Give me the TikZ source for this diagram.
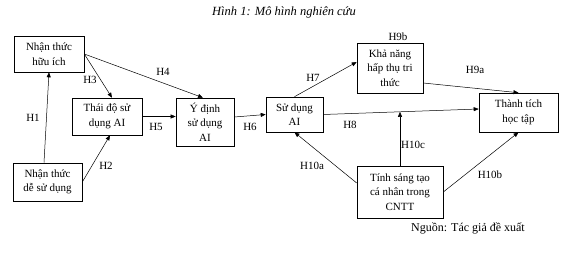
\documentclass[tikz,border=0pt]{standalone}
\usepackage{fontspec}
\setmainfont{Liberation Serif}
\usetikzlibrary{arrows.meta,positioning,calc}

\begin{document}
\begin{tikzpicture}[x=1pt,y=-1pt,
  hbox/.style={draw,line width=0.6pt,align=center,inner sep=1pt,
    font=\fontsize{11}{14.5}\selectfont},
  arr/.style={-{Triangle[length=5pt,width=4pt]},line width=0.5pt},
  hlab/.style={font=\fontsize{11}{12}\selectfont,inner sep=1pt}
]
  \useasboundingbox (0,0) rectangle (571,255);
  % Title
  \node[font=\fontsize{12.5}{14}\selectfont\itshape] (title) at (284,12) {Hình 1: Mô hình nghiên cứu};
  % Constructs
  \node[hbox,minimum width=70pt,minimum height=36pt] (hi) at (49,54) {Nhận thức\\hữu ích};
  \node[hbox,minimum width=70pt,minimum height=37pt] (td) at (107,116.5) {Thái độ sử\\dụng AI};
  \node[hbox,minimum width=58pt,minimum height=48pt] (yd) at (205,122) {Ý định\\sử dụng\\AI};
  \node[hbox,minimum width=57pt,minimum height=35pt] (sd) at (294.5,114.5) {Sử dụng\\AI};
  \node[hbox,minimum width=66pt,minimum height=50pt] (kn) at (390,68) {Khả năng\\hấp thụ tri\\thức};
  \node[hbox,minimum width=79pt,minimum height=39pt] (tt) at (518.5,112.5) {Thành tích\\học tập};
  \node[hbox,minimum width=69pt,minimum height=38pt] (ds) at (47.5,182) {Nhận thức\\dễ sử dụng};
  \node[hbox,minimum width=86pt,minimum height=52pt] (st) at (400,192) {Tính sáng tạo\\cá nhân trong\\CNTT};
  % Hypotheses
  \draw[arr] ([xshift=-3.5pt]ds.north) -- (hi.south);
  \draw[arr] (ds.east) -- ([xshift=3pt]td.south);
  \draw[arr] (hi.east) -- ([xshift=5pt]td.north);
  \draw[arr] (hi.east) -- ([xshift=-2pt]yd.north);
  \draw[arr] (td.east) -- (td.east -| yd.west);
  \draw[arr] ([yshift=5pt]yd.east) -- (sd.west);
  \draw[arr] (sd.north) -- ([yshift=6pt]kn.west);
  \draw[arr] (sd.east) -- coordinate[pos=0.494] (h8m) ([yshift=3.5pt]tt.west);
  \draw[arr] ([yshift=-15pt]kn.east) -- (tt.north);
  \draw[arr] ([yshift=9pt]st.west) -- (sd.south);
  \draw[arr] (st.east) -- (tt.south);
  \draw[arr] (st.north) -- (st.north |- h8m);
  % Labels
  \node[hlab] (lH1) at (33,118) {H1};
  \node[hlab] (lH2) at (106,166) {H2};
  \node[hlab] (lH3) at (90,80) {H3};
  \node[hlab] (lH4) at (163,72) {H4};
  \node[hlab] (lH5) at (156,127) {H5};
  \node[hlab] (lH6) at (250,127) {H6};
  \node[hlab] (lH7) at (313,78) {H7};
  \node[hlab] (lH8) at (350,125) {H8};
  \node[hlab] (lH9a) at (475,70) {H9a};
  \node[hlab] (lH9b) at (398,37) {H9b};
  \node[hlab] (lH10a) at (312,166) {H10a};
  \node[hlab] (lH10b) at (490,175) {H10b};
  \node[hlab] (lH10c) at (413,145) {H10c};
  % Source
  \node[font=\fontsize{12}{14}\selectfont] (src) at (468,228) {Nguồn: Tác giả đề xuất};
\end{tikzpicture}
\end{document}
